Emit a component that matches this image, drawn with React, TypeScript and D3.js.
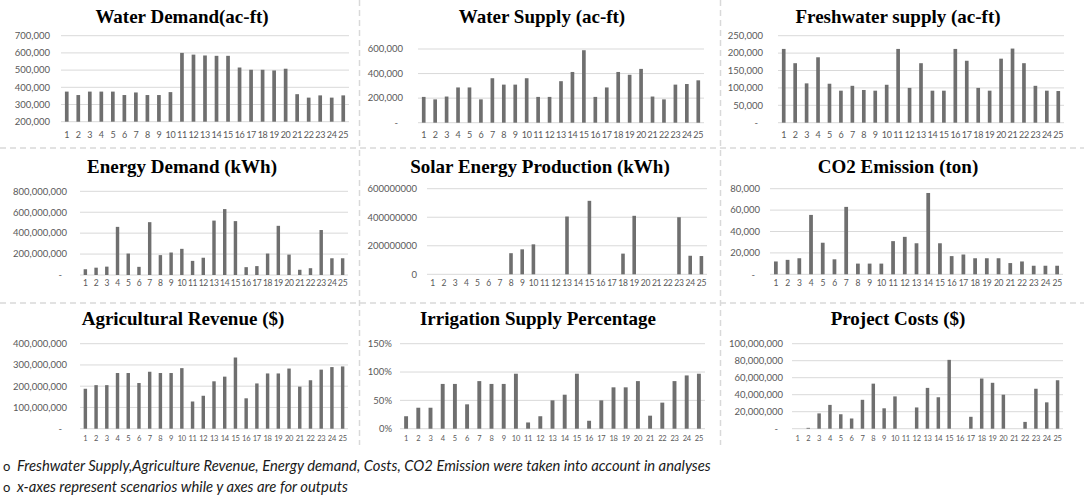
import * as React from 'react';
import * as d3 from 'd3';

// scenarios on the x axes
const scenarios = ['1', '2', '3', '4', '5', '6', '7', '8', '9', '10', '11', '12', '13', '14', '15', '16', '17', '18', '19', '20', '21', '22', '23', '24', '25'];

// outputs per scenario
const waterDemand = [375000, 355000, 375000, 375000, 375000, 355000, 370000, 355000, 355000, 372000, 600000, 590000, 585000, 583000, 583000, 515000, 502000, 502000, 498000, 508000, 360000, 340000, 353000, 340000, 353000];
const waterSupply = [210000, 190000, 213000, 287000, 287000, 190000, 362000, 310000, 310000, 362000, 210000, 210000, 338000, 413000, 590000, 210000, 287000, 413000, 390000, 438000, 213000, 190000, 310000, 315000, 345000];
const freshwaterSupply = [212000, 171000, 113000, 188000, 112000, 92000, 106000, 94000, 92000, 109000, 212000, 100000, 171000, 92000, 92000, 212000, 178000, 100000, 92000, 184000, 213000, 171000, 106000, 92000, 91000];
const energyDemand = [55e6, 70e6, 80e6, 460e6, 205e6, 78e6, 505e6, 190e6, 215e6, 250e6, 135e6, 165e6, 520e6, 630e6, 515e6, 75e6, 85e6, 205e6, 470e6, 195e6, 50e6, 65e6, 430e6, 160e6, 160e6];
const solarProduction = [0, 0, 0, 0, 0, 0, 0, 148e6, 175e6, 210e6, 0, 0, 405e6, 0, 515e6, 0, 0, 145e6, 410e6, 0, 0, 0, 400e6, 130e6, 128e6];
const co2Emission = [12000, 13500, 15000, 55500, 29500, 14000, 63000, 10000, 10000, 10000, 31000, 35000, 29000, 76000, 29000, 17000, 18500, 15000, 15000, 15000, 10500, 12000, 8000, 8000, 8000];
const agriRevenue = [188e6, 205e6, 205e6, 262e6, 262e6, 215e6, 268e6, 262e6, 262e6, 285e6, 128e6, 155e6, 223e6, 245e6, 335e6, 143e6, 213e6, 260e6, 260e6, 283e6, 198e6, 228e6, 278e6, 290e6, 293e6];
const irrigationPct = [0.22, 0.37, 0.37, 0.79, 0.79, 0.43, 0.84, 0.79, 0.79, 0.97, 0.11, 0.22, 0.5, 0.6, 0.97, 0.14, 0.5, 0.73, 0.73, 0.84, 0.23, 0.46, 0.84, 0.94, 0.97];
const projectCosts = [0, 1e6, 18e6, 28e6, 17e6, 12e6, 34e6, 53e6, 24e6, 38e6, 0, 25e6, 48e6, 37e6, 81e6, 0, 14e6, 59e6, 54e6, 40e6, 0, 8e6, 47e6, 31e6, 57e6];

const notes = [
  'Freshwater Supply,Agriculture Revenue, Energy demand, Costs, CO2 Emission were taken into account in analyses',
  'x-axes represent scenarios while y axes are for outputs',
];

const comma = (v: number) => (v === 0 ? '-' : d3.format(',')(v));
const plain = (v: number) => d3.format('d')(v);
const pct = (v: number) => d3.format('.0%')(v);

interface PanelSpec {
  title: string;
  data: number[];
  domain: [number, number];
  step: number;
  fmt: (v: number) => string;
  left: number;
  right: number;
  top: number;
  bottom: number;
  titleX: number;
  titleY: number;
  labelX: number;
  xLabelY: number;
  xFont: number;
}

const panels: PanelSpec[] = [
  { title: 'Water Demand(ac-ft)', data: waterDemand, domain: [200000, 700000], step: 100000, fmt: comma,
    left: 61, right: 349, top: 35.7, bottom: 121.7, titleX: 182, titleY: 23, labelX: 50, xLabelY: 135, xFont: 9 },
  { title: 'Water Supply (ac-ft)', data: waterSupply, domain: [0, 600000], step: 200000, fmt: comma,
    left: 418, right: 704, top: 49, bottom: 122.7, titleX: 542, titleY: 23, labelX: 403, xLabelY: 135, xFont: 9 },
  { title: 'Freshwater supply (ac-ft)', data: freshwaterSupply, domain: [0, 250000], step: 50000, fmt: comma,
    left: 778, right: 1064, top: 35.7, bottom: 122.7, titleX: 898, titleY: 23, labelX: 763, xLabelY: 135, xFont: 9 },
  { title: 'Energy Demand (kWh)', data: energyDemand, domain: [0, 800e6], step: 200e6, fmt: comma,
    left: 80, right: 348, top: 191.3, bottom: 275, titleX: 182, titleY: 173, labelX: 67, xLabelY: 283, xFont: 8.5 },
  { title: 'Solar Energy Production (kWh)', data: solarProduction, domain: [0, 600e6], step: 200e6, fmt: plain,
    left: 427, right: 707, top: 188.7, bottom: 274.3, titleX: 540, titleY: 173, labelX: 417, xLabelY: 283, xFont: 8.5 },
  { title: 'CO2 Emission (ton)', data: co2Emission, domain: [0, 80000], step: 20000, fmt: comma,
    left: 770, right: 1063, top: 188.7, bottom: 274.3, titleX: 898, titleY: 173, labelX: 760, xLabelY: 283, xFont: 8.5 },
  { title: 'Agricultural Revenue ($)', data: agriRevenue, domain: [0, 400e6], step: 100e6, fmt: comma,
    left: 80, right: 348, top: 343.7, bottom: 428.7, titleX: 183, titleY: 325, labelX: 67, xLabelY: 438, xFont: 7.5 },
  { title: 'Irrigation Supply Percentage', data: irrigationPct, domain: [0, 1.5], step: 0.5, fmt: pct,
    left: 400, right: 705, top: 343.7, bottom: 428.7, titleX: 538, titleY: 325, labelX: 392, xLabelY: 438, xFont: 7.5 },
  { title: 'Project Costs ($)', data: projectCosts, domain: [0, 100e6], step: 20e6, fmt: comma,
    left: 792, right: 1063, top: 343.7, bottom: 428.7, titleX: 898, titleY: 325, labelX: 783, xLabelY: 438, xFont: 7.5 },
];

const tickFont = 'Lato, "Open Sans", sans-serif';

const BarPanel: React.FC<{ p: PanelSpec }> = ({ p }) => {
  const x = d3.scaleBand<string>().domain(scenarios).range([p.left, p.right]).paddingInner(0.68).paddingOuter(0.34);
  const y = d3.scaleLinear().domain(p.domain).range([p.bottom, p.top]);
  const ticks = d3.range(p.domain[0], p.domain[1] + p.step / 2, p.step);
  return (
    <g>
      <text x={p.titleX} y={p.titleY} textAnchor="middle" fontFamily='"Liberation Serif", "Times New Roman", serif'
        fontWeight="bold" fontSize={19} fill="#000">{p.title}</text>
      {ticks.map((t) => (
        <g key={t}>
          <line x1={p.left} x2={p.right} y1={y(t)} y2={y(t)} stroke="#d9d9d9" strokeWidth={1} />
          <text x={p.fmt(t) === '-' ? p.labelX - 5 : p.labelX} y={y(t)} dy="0.35em" textAnchor="end"
            fontFamily={tickFont} fontSize={9.5} fill="#595959">{p.fmt(t)}</text>
        </g>
      ))}
      {p.data.map((d, i) => (
        <rect key={i} x={x(scenarios[i])} width={x.bandwidth()} y={y(Math.max(d, p.domain[0]))}
          height={Math.max(0, p.bottom - y(Math.max(d, p.domain[0])))} fill="#6f6f6f" />
      ))}
      {scenarios.map((s) => (
        <text key={s} x={(x(s) ?? 0) + x.bandwidth() / 2} y={p.xLabelY} dy="0.35em" textAnchor="middle"
          fontFamily={tickFont} fontSize={p.xFont} letterSpacing={-0.3} fill="#595959">{s}</text>
      ))}
    </g>
  );
};

export default function App() {
  return (
    <svg width={1084} height={497} style={{ position: 'absolute', left: 0, top: 0, background: '#fff' }}>
      {/* dashed panel dividers */}
      <g stroke="#d9d9d9" strokeWidth={1.5} strokeDasharray="6,4" fill="none">
        <line x1={359.5} x2={359.5} y1={0} y2={445} />
        <line x1={720.5} x2={720.5} y1={0} y2={445} />
        <line x1={0} x2={1084} y1={148} y2={148} />
        <line x1={0} x2={1084} y1={303} y2={303} />
      </g>
      {panels.map((p) => <BarPanel key={p.title} p={p} />)}
      {notes.map((n, i) => (
        <g key={i}>
          <text x={3} y={471 + i * 21} fontFamily={tickFont} fontSize={13} fill="#1a1a1a">o</text>
          <text x={17} y={471 + i * 21} fontFamily={tickFont} fontStyle="italic" fontSize={14.8} fill="#1a1a1a">{n}</text>
        </g>
      ))}
    </svg>
  );
}
